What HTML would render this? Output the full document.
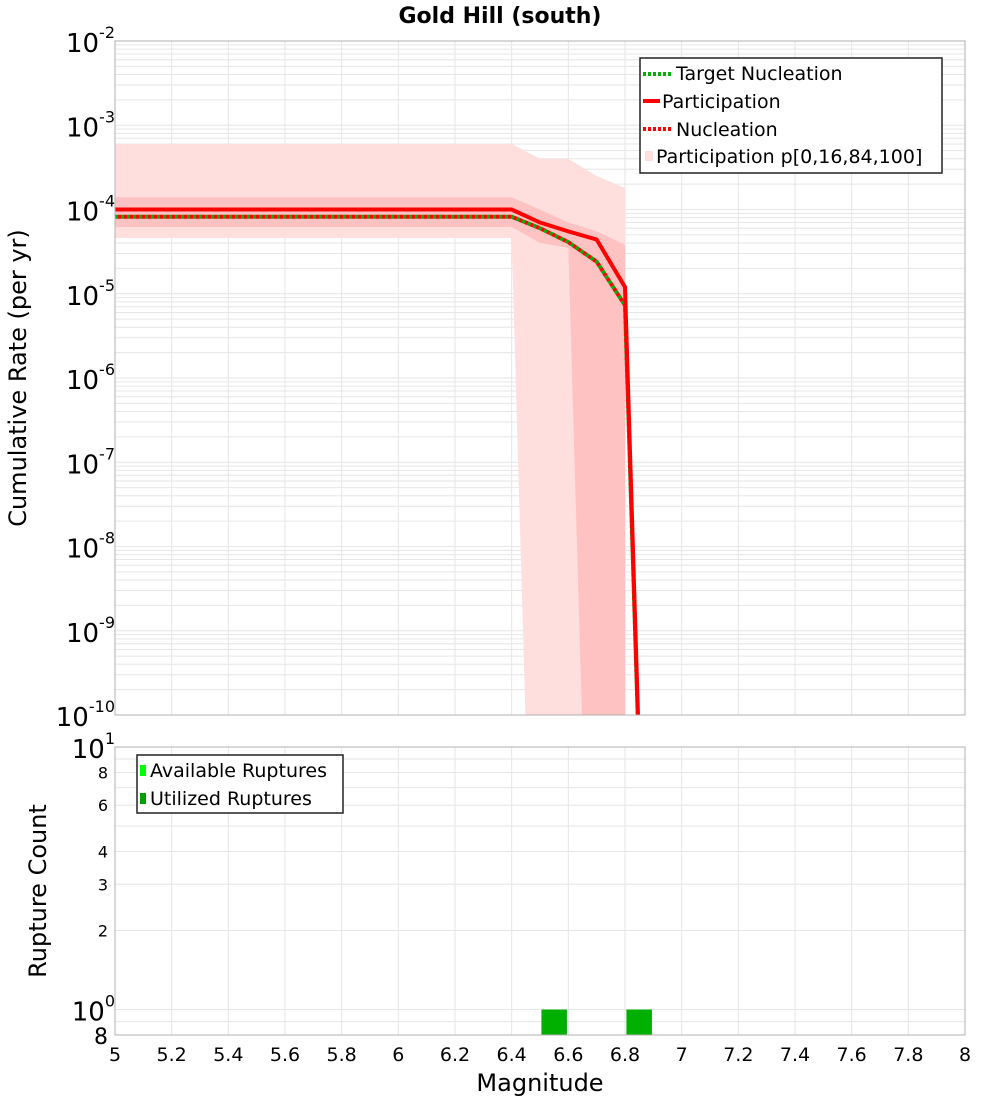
<!DOCTYPE html>
<html><head><meta charset="utf-8"><style>
body{margin:0;background:#fff;width:1000px;height:1100px;overflow:hidden}
svg{font-family:"DejaVu Sans","Liberation Sans",sans-serif}
</style></head><body>
<svg id="chart" width="1000" height="1100" xmlns="http://www.w3.org/2000/svg"></svg>
<script>
// ---- data ----
const mags = [5.0,5.1,5.2,5.3,5.4,5.5,5.6,5.7,5.8,5.9,6.0,6.1,6.2,6.3,6.4,6.5,6.6,6.7,6.8,6.9];
const participation = [1e-4,1e-4,1e-4,1e-4,1e-4,1e-4,1e-4,1e-4,1e-4,1e-4,1e-4,1e-4,1e-4,1e-4,1e-4,7e-5,5.5e-5,4.4e-5,1.2e-5,1e-16];
const nucleation = [8.2e-5,8.2e-5,8.2e-5,8.2e-5,8.2e-5,8.2e-5,8.2e-5,8.2e-5,8.2e-5,8.2e-5,8.2e-5,8.2e-5,8.2e-5,8.2e-5,8.2e-5,6.0e-5,4.1e-5,2.4e-5,7.3e-6,1e-16];
const nucMags = [5.0,5.1,5.2,5.3,5.4,5.5,5.6,5.7,5.8,5.9,6.0,6.1,6.2,6.3,6.4,6.5,6.6,6.7,6.8,6.9];
const bandMags = [5.0,6.4,6.5,6.6,6.7,6.8];
const p100 = [6e-4,6e-4,4e-4,4e-4,2.5e-4,1.8e-4];
const p84 = [1.4e-4,1.4e-4,1e-4,7e-5,5.5e-5,3.8e-5];
const p16 = [6.2e-5,6.2e-5,4e-5,3.5e-5,1e-16,1e-16];
const p0 = [4.6e-5,4.6e-5,1e-16,1e-16,1e-16,1e-16];
const histMags = [6.55,6.85];
const utilized = [1,1];
const xTicks = [5,5.2,5.4,5.6,5.8,6,6.2,6.4,6.6,6.8,7,7.2,7.4,7.6,7.8,8];
const yExps = [-2,-3,-4,-5,-6,-7,-8,-9,-10];
const botTicks = [2,3,4,6,8];

const svg = document.getElementById('chart');
const NS = 'http://www.w3.org/2000/svg';
function mk(tag, attrs, parent){const e=document.createElementNS(NS,tag);for(const k in attrs)e.setAttribute(k,attrs[k]);(parent||svg).appendChild(e);return e;}
const L=115,R=965,T1=41,B1=715,T2=747,B2=1035;
const x = m => L+(m-5)/3*(R-L);
const yTop = v => { const lv=Math.max(Math.log10(v),-20); return T1+(-2-lv)/8*(B1-T1); };
const yBot = v => T2+(1-Math.log10(v))/(1-Math.log10(0.8))*(B2-T2);

const defs=mk('defs',{});
const c1=mk('clipPath',{id:'c1'},defs); mk('rect',{x:L,y:T1,width:R-L,height:B1-T1},c1);
const c2=mk('clipPath',{id:'c2'},defs); mk('rect',{x:L,y:T2,width:R-L,height:B2-T2},c2);

const g1=mk('g',{'clip-path':'url(#c1)'});


for(let e=-10;e<-2;e++)for(let k=1;k<10;k++){const yy=yTop(k*Math.pow(10,e));mk('line',{x1:L,x2:R,y1:yy,y2:yy,stroke:'#e6e6e6','stroke-width':1},g1);}
xTicks.forEach(t=>{mk('line',{x1:x(t),x2:x(t),y1:T1,y2:B1,stroke:'#e6e6e6','stroke-width':1},g1);});
const g2=mk('g',{'clip-path':'url(#c2)'});


[0.8,0.9,1,2,3,4,5,6,7,8,9].forEach(v=>{const yy=yBot(v);mk('line',{x1:L,x2:R,y1:yy,y2:yy,stroke:'#e6e6e6'},g2);});
xTicks.forEach(t=>{mk('line',{x1:x(t),x2:x(t),y1:T2,y2:B2,stroke:'#e6e6e6'},g2);});

function band(up,lo,fill,name){
  let pts=bandMags.map((m,i)=>x(m)+','+yTop(up[i]));
  for(let i=bandMags.length-1;i>=0;i--)pts.push(x(bandMags[i])+','+yTop(lo[i]));
  const p=mk('polygon',{points:pts.join(' '),fill:fill},g1);
  
  
}
band(p100,p0,'#ffdede','band-p0-100');
band(p84,p16,'#ffc2c2','band-p16-84');

function line(ms,vals,attrs,name){
  const p=mk('polyline',Object.assign({points:ms.map((m,i)=>x(m)+','+yTop(vals[i])).join(' '),fill:'none'},attrs),g1);
  
  
}
line(nucMags,nucleation,{stroke:'#00b000','stroke-width':4,'stroke-dasharray':'3,3'},'target-nucleation-line');
line(nucMags,nucleation,{stroke:'#ff0000','stroke-width':4,'stroke-dasharray':'3,3','stroke-dashoffset':3},'nucleation-line');
line(mags,participation,{stroke:'#ff0000','stroke-width':4},'participation-line');

histMags.forEach((m,i)=>{
  const r=mk('rect',{x:x(m-0.045),width:x(m+0.045)-x(m-0.045),y:yBot(utilized[i]),height:B2-yBot(utilized[i]),fill:'#00b000'},g2);
  
  
});

mk('rect',{x:L,y:T1,width:R-L,height:B1-T1,fill:'none',stroke:'#b0b0b0'});
mk('rect',{x:L,y:T2,width:R-L,height:B2-T2,fill:'none',stroke:'#b0b0b0'});

function txt(s,attrs,name){const t=mk('text',attrs);t.textContent=s;return t;}
yExps.forEach(e=>{
  const t=mk('text',{x:115,y:yTop(Math.pow(10,e))+11,'text-anchor':'end','font-size':26});
  
  
  const a=mk('tspan',{},t);a.textContent='10';
  const b=mk('tspan',{dy:-14,'font-size':16},t);b.textContent=String(e);
});
[[10,'10','1'],[1,'10','0']].forEach(([v,a,b])=>{
  const t=mk('text',{x:115,y:yBot(v)+11,'text-anchor':'end','font-size':26});
  
  
  const s1=mk('tspan',{},t);s1.textContent=a;
  const s2=mk('tspan',{dy:-14,'font-size':16},t);s2.textContent=b;
});
botTicks.forEach(v=>txt(String(v),{x:108,y:yBot(v)+6,'text-anchor':'end','font-size':16},'bottom-y-tick-label'));
txt('8',{x:108,y:B2+9,'text-anchor':'end','font-size':22},'bottom-y-tick-label');
xTicks.forEach(t=>txt(String(t),{x:x(t),y:1061,'text-anchor':'middle','font-size':19},'x-tick-label'));

txt('Gold Hill (south)',{x:500,y:23,'text-anchor':'middle','font-size':22,'font-weight':'bold'},'chart-title');
txt('Cumulative Rate (per yr)',{x:0,y:0,transform:'translate(26,378) rotate(-90)','text-anchor':'middle','font-size':24},'y-axis-title');
txt('Rupture Count',{x:0,y:0,transform:'translate(46,891) rotate(-90)','text-anchor':'middle','font-size':24},'bottom-y-axis-title');
txt('Magnitude',{x:540,y:1091,'text-anchor':'middle','font-size':24},'x-axis-title');

const lg=mk('g',{});


mk('rect',{x:640,y:58,width:302,height:115,fill:'#fff',stroke:'#222','stroke-width':1.5},lg);
mk('line',{x1:643,x2:672,y1:74,y2:74,stroke:'#00b000','stroke-width':4,'stroke-dasharray':'3,2'},lg);
mk('line',{x1:643,x2:660,y1:101,y2:101,stroke:'#ff0000','stroke-width':4},lg);
mk('line',{x1:643,x2:672,y1:129,y2:129,stroke:'#ff0000','stroke-width':4,'stroke-dasharray':'3,2'},lg);
mk('rect',{x:645,y:151,width:8,height:10,fill:'#ffdede'},lg);
txt('Target Nucleation',{x:676,y:80,'font-size':19},'legend-target-nucleation');
txt('Participation',{x:662,y:108,'font-size':19},'legend-participation');
txt('Nucleation',{x:676,y:136,'font-size':19},'legend-nucleation');
txt('Participation p[0,16,84,100]',{x:656,y:163,'font-size':19},'legend-participation-band');
const lb=mk('g',{});


mk('rect',{x:137,y:755,width:206,height:58,fill:'#fff',stroke:'#222','stroke-width':1.5},lb);
mk('rect',{x:140,y:765,width:6,height:11,fill:'#00ff00'},lb);
mk('rect',{x:140,y:793,width:6,height:11,fill:'#00a000'},lb);
txt('Available Ruptures',{x:150,y:777,'font-size':19},'legend-available');
txt('Utilized Ruptures',{x:150,y:805,'font-size':19},'legend-utilized');
</script>
</body></html>
